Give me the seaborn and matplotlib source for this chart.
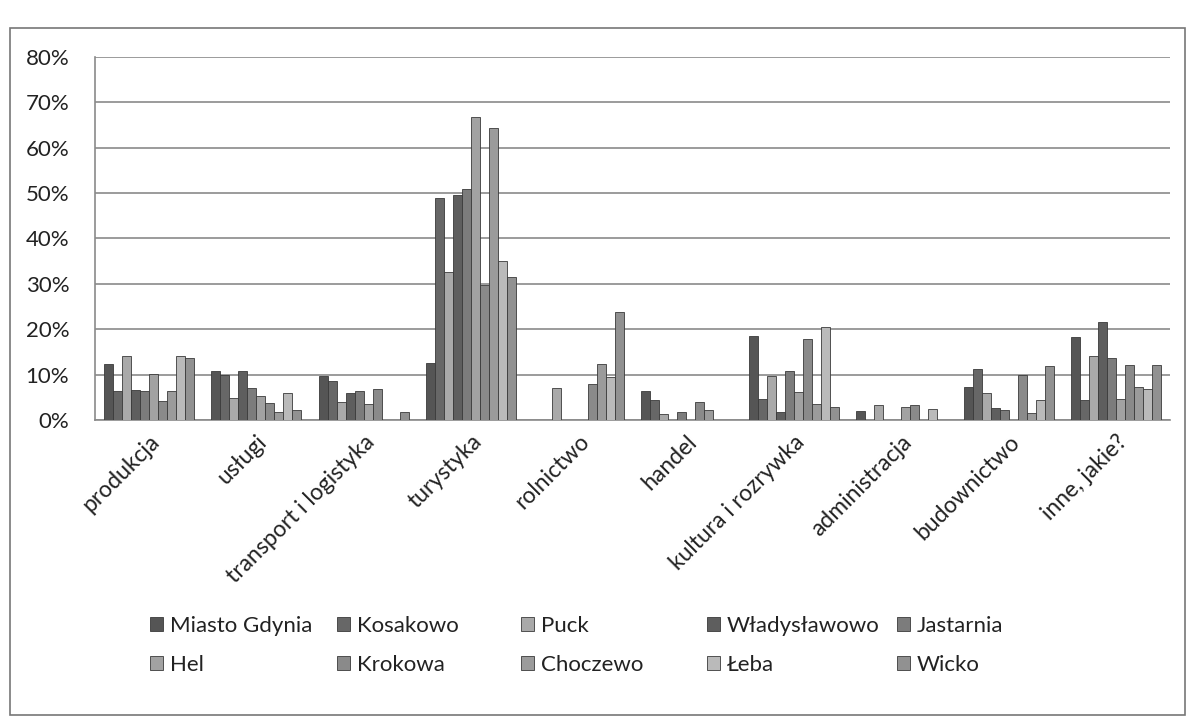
import numpy as np
import pandas as pd
import seaborn as sns
import matplotlib.pyplot as plt
from matplotlib.patches import Rectangle
from matplotlib.ticker import FuncFormatter, MultipleLocator

# kategorie (branże)
categories = ['produkcja', 'usługi', 'transport i logistyka', 'turystyka', 'rolnictwo',
              'handel', 'kultura i rozrywka', 'administracja', 'budownictwo', 'inne, jakie?']

# udział odpowiedzi w % dla każdej gminy
miasto_gdynia = [12.3, 10.9, 9.8, 12.5, 0.0, 6.3, 18.6, 2.0, 7.2, 18.4]
kosakowo      = [6.4, 10.0, 8.5, 48.9, 0.0, 4.4, 4.6, 0.0, 11.3, 4.3]
puck          = [14.2, 4.9, 4.0, 32.7, 7.0, 1.3, 9.8, 3.4, 6.0, 14.1]
wladyslawowo  = [6.7, 10.7, 6.0, 49.6, 0.0, 0.0, 1.7, 0.0, 2.7, 21.5]
jastarnia     = [6.4, 7.1, 6.5, 51.0, 0.0, 1.7, 10.9, 0.0, 2.2, 13.6]
hel           = [10.2, 5.3, 3.6, 66.8, 0.0, 0.0, 6.1, 2.8, 0.0, 4.7]
krokowa       = [4.2, 3.8, 6.8, 29.8, 7.9, 3.9, 17.9, 3.3, 9.9, 12.2]
choczewo      = [6.4, 1.7, 0.0, 64.3, 12.3, 2.3, 3.5, 0.0, 1.6, 7.3]
leba          = [14.2, 5.9, 0.0, 35.0, 9.4, 0.0, 20.4, 2.5, 4.4, 6.9]
wicko         = [13.6, 2.2, 1.7, 31.6, 23.7, 0.0, 2.8, 0.0, 12.0, 12.2]

series = ['Miasto Gdynia', 'Kosakowo', 'Puck', 'Władysławowo', 'Jastarnia',
          'Hel', 'Krokowa', 'Choczewo', 'Łeba', 'Wicko']
values = [miasto_gdynia, kosakowo, puck, wladyslawowo, jastarnia,
          hel, krokowa, choczewo, leba, wicko]
colors = ['#555555', '#676767', '#a9a9a9', '#5e5e5e', '#7c7c7c',
          '#a2a2a2', '#8a8a8a', '#9b9b9b', '#bababa', '#919191']

rows = []
for name, vals in zip(series, values):
    for cat, v in zip(categories, vals):
        rows.append({'kategoria': cat, 'gmina': name, 'wartosc': v})
df = pd.DataFrame(rows)

sns.set_style('white')
plt.rcParams['font.family'] = ['Lato', 'DejaVu Sans']

fig = plt.figure(figsize=(11.98, 7.19), dpi=100)
ax = fig.add_axes([95/1198, 1-420/719, (1170-95)/1198, (420-57)/719])

sns.barplot(data=df, x='kategoria', y='wartosc', hue='gmina', order=categories,
            hue_order=series, palette=colors, width=0.84, edgecolor='#3a3a3a',
            linewidth=0.6, ax=ax, zorder=3)

ax.set_ylim(0, 80)
ax.set_xlim(-0.5, len(categories)-0.5)
ax.yaxis.set_major_locator(MultipleLocator(10))
ax.yaxis.set_major_formatter(FuncFormatter(lambda v, p: f'{v:.0f}%'))
ax.grid(axis='y', color='#8a8a8a', linewidth=1.2, zorder=0)
ax.set_axisbelow(True)
ax.set_xlabel('')
ax.set_ylabel('')
for s in ['top', 'right']:
    ax.spines[s].set_visible(False)
for s in ['left', 'bottom']:
    ax.spines[s].set_color('#8a8a8a')
    ax.spines[s].set_linewidth(1.2)

ax.tick_params(axis='y', direction='out', length=7.5, color='#8a8a8a', labelsize=16,
               pad=11, labelcolor='#222222')
ax.tick_params(axis='x', which='major', length=0, labelsize=16.5, pad=8, labelcolor='#222222')
ax.set_xticks(np.arange(-0.5, len(categories)), minor=True)
ax.tick_params(axis='x', which='minor', direction='out', length=7, color='#8a8a8a')
plt.setp(ax.get_xticklabels(), rotation=45, ha='right', rotation_mode='anchor')

# legenda: 5 kolumn o równej szerokości, po dwa wpisy (wiersz 1 i wiersz 2)
handles, labels = ax.get_legend_handles_labels()
ax.get_legend().remove()
col_x = [150, 337, 521, 707, 897]
for c in range(5):
    leg = fig.legend([handles[c], handles[c+5]], [labels[c], labels[c+5]],
                     loc='upper left', bbox_to_anchor=(col_x[c]/1198, 1-616/719),
                     frameon=False, fontsize=16, handlelength=0.6, handleheight=0.6,
                     labelspacing=0.85, handletextpad=0.3, borderpad=0, borderaxespad=0)
    for t in leg.get_texts():
        t.set_color('#222222')

fig.patches.append(Rectangle((10/1198, 4/719), 1175/1198, 687/719, transform=fig.transFigure,
                             fill=False, edgecolor='#777777', linewidth=1.2))

fig.savefig('out.png', dpi=100)
